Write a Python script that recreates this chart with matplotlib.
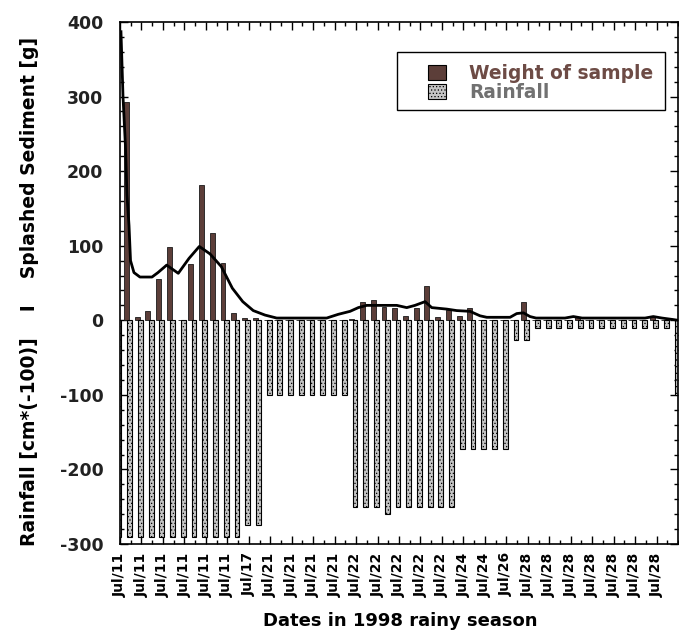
import numpy as np
import matplotlib.pyplot as plt
from matplotlib.patches import Patch, Rectangle
from matplotlib.ticker import MultipleLocator

plt.rcParams['axes.unicode_minus'] = False
plt.rcParams['hatch.linewidth'] = 0.5

# tick labels (one every second sample)
dateLabels = ['Jul/11'] * 6 + ['Jul/17'] + ['Jul/21'] * 4 + ['Jul/22'] * 5 + \
             ['Jul/24'] * 2 + ['Jul/26'] + ['Jul/28'] * 7

# weight of splashed sediment per sample [g]
sediment = [0, 293, 5, 12, 55, 98, 1, 75, 182, 117, 77, 10, 3, 3, 0, 0, 0, 0,
            0, 0, 0, 0, 2, 25, 27, 18, 17, 6, 17, 46, 4, 14, 6, 17, 0, 0, 0,
            0, 25, 0, 0, 0, 0, 4, 0, 0, 0, 0, 0, 0, 4, 0, 0]

# rainfall per sample, shown as cm*(-100)
rainfall = [-290] * 12 + [-275] * 2 + [-100] * 8 + [-250] * 3 + [-260] + \
           [-250] * 6 + [-172] * 5 + [-26] * 2 + [-11] * 13 + [-100]

# smoothed sediment curve (sample index, value)
curveX = [0.09, 0.28, 0.51, 0.65, 0.84, 0.98, 1.3, 1.86, 2.98, 3.54, 4.35, 5.43,
          6.43, 7.39, 8.39, 9.44, 10.47, 11.44, 12.42, 13.51, 14.6, 19.26, 20.34,
          21.44, 22.21, 22.99, 25.79, 26.72, 27.49, 28.43, 29.05, 30.45, 31.38,
          32.62, 33.55, 34.18, 36.35, 36.97, 37.59, 38.21, 38.77, 41.47, 42.25,
          43.06, 48.93, 49.7, 50.51, 51.54, 52.0]
curveY = [387, 300, 233, 168, 127, 80, 64, 58, 58, 64, 74, 63, 83, 99, 89, 72,
          43, 25, 13, 7, 3, 3, 8, 12, 17, 20, 20, 17, 20, 25, 17, 15, 13, 12, 6,
          4, 4, 9, 10, 5, 3, 3, 5, 3, 3, 5, 3, 1, 0]

brownColor = '#5c3e39'
rainColor = '#c4c4c4'
barWidth = 0.45

fig = plt.figure(figsize=(6.79, 6.36), dpi=100)
ax = fig.add_axes([120 / 679, 1 - 544 / 636, 558 / 679, 522 / 636])

idx = np.arange(len(sediment))
ax.bar(idx - 0.4, sediment, width=barWidth, color=brownColor, edgecolor='#1a1a1a', linewidth=0.6, zorder=2)
ax.bar(idx - 0.1, rainfall, width=barWidth, color=rainColor, edgecolor='black', linewidth=0.8,
       hatch='.....', zorder=2)
ax.plot(curveX, curveY, color='black', linewidth=2.0, zorder=3)

ax.set_xlim(0, 52)
ax.set_ylim(-300, 400)

ax.set_xticks(np.arange(0, 2 * len(dateLabels), 2))
ax.set_xticklabels(dateLabels, rotation=90, fontsize=10, fontweight='bold')
ax.xaxis.set_minor_locator(MultipleLocator(1))
ax.yaxis.set_major_locator(MultipleLocator(100))
ax.yaxis.set_minor_locator(MultipleLocator(20))
ax.tick_params(axis='both', which='both', direction='in', top=True, right=True, width=1)
ax.tick_params(axis='both', which='major', length=6)
ax.tick_params(axis='both', which='minor', length=3)
ax.tick_params(axis='y', which='major', pad=12, labelsize=12.5, labelcolor='#222222')
ax.tick_params(axis='x', which='major', pad=6)
for lbl in ax.get_yticklabels():
  lbl.set_fontweight('bold')
for sp in ax.spines.values():
  sp.set_linewidth(1.2)

ax.set_xlabel('Dates in 1998 rainy season', fontsize=13, fontweight='bold')
ax.xaxis.set_label_coords(0.502, -0.13)
ax.set_ylabel('Rainfall [cm*(-100)]    I    Splashed Sediment [g]', fontsize=13.5, fontweight='bold')
ax.yaxis.set_label_coords(-0.145, 0.484)

# legend
frame = Rectangle((0.4964, 0.8314), 0.4803, 0.1111, transform=ax.transAxes,
                  facecolor='white', edgecolor='black', linewidth=1, zorder=4)
ax.add_patch(frame)
handles = [Patch(facecolor=brownColor, edgecolor='black', linewidth=0.8),
           Patch(facecolor=rainColor, edgecolor='black', linewidth=0.8, hatch='.....')]
leg = ax.legend(handles, ['Weight of sample', 'Rainfall'], loc='upper left',
                bbox_to_anchor=(0.535, 0.938), frameon=False, borderpad=0,
                handlelength=1.0, handleheight=0.9, handletextpad=1.2, labelspacing=0.0,
                prop={'size': 13.4, 'weight': 'bold'})
leg.set_zorder(5)
leg.get_texts()[0].set_color('#6d4b45')
leg.get_texts()[1].set_color('#717171')

plt.savefig('out.png', dpi=100)
